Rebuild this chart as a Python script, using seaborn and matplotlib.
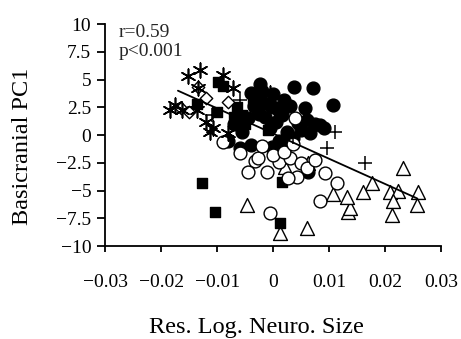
import matplotlib
matplotlib.use("Agg")
import matplotlib.pyplot as plt
import seaborn as sns
import pandas as pd

# values
fc_x = [0.0038, 0.0071, 0.0107, 0.0057, 0.0084, 0.0090, 0.0060, -0.0040, -0.0030, -0.0020,
        -0.0010, 0.0000, 0.0010, 0.0020, -0.0035, -0.0025, -0.0015, 0.0005, 0.0015, 0.0030,
        0.0045, 0.0050, 0.0025, -0.0045, -0.0005, 0.0010, 0.0035, -0.0070, -0.0055, -0.0080,
        -0.0060, 0.0065, 0.0075, -0.0020, 0.0000, -0.0040, -0.0002, 0.0025, 0.0063, -0.0023]
fc_y = [4.3, 4.2, 2.7, 2.4, 0.9, 0.6, 1.4, 3.8, 3.5, 3.0,
        2.8, 2.5, 2.2, 3.2, 2.6, 1.9, 1.6, 1.2, 1.8, 2.6,
        1.1, 0.5, 0.3, 1.5, 0.6, -0.5, -0.3, 1.0, 0.3, -0.5,
        -1.2, 0.2, 1.0, 4.0, 3.7, -0.9, -1.1, -2.0, -3.3, 4.6]

oc_x = [-0.0089, -0.0032, -0.0045, -0.0011, 0.0043, 0.0027, 0.0093, 0.0114, 0.0084, -0.0005,
        -0.0027, 0.0039, 0.0010, 0.0030, 0.0050, 0.0060, 0.0000, -0.0020, 0.0075, 0.0020,
        -0.0060, 0.0035]
oc_y = [-0.6, -2.3, -3.3, -3.3, -3.8, -3.9, -3.4, -4.3, -5.9, -7.0,
        -2.1, 1.5, -2.4, -2.1, -2.5, -3.0, -1.8, -1.0, -2.2, -1.5,
        -1.6, -0.8]

ot_x = [0.0232, 0.0177, 0.0160, 0.0209, 0.0223, 0.0259, 0.0214, 0.0257, 0.0212, 0.0134,
        0.0138, 0.0132, 0.0107, -0.0046, 0.0061, 0.0013, 0.0005, 0.0021, 0.0063]
ot_y = [-3.0, -4.3, -5.1, -5.1, -5.0, -5.1, -5.9, -6.3, -7.2, -6.9,
        -6.6, -5.6, -5.3, -6.3, -8.4, -8.8, -1.5, -2.9, -2.5]

fs_x = [-0.0127, -0.0104, 0.0013, 0.0016, -0.0098, -0.0136, -0.0100, -0.0064, -0.0036, -0.0090,
        -0.0010, -0.0050, 0.0020, -0.0070, -0.0055]
fs_y = [-4.3, -6.9, -7.9, -4.2, 4.8, 2.8, 2.1, 2.5, 2.9, 4.4,
        0.5, 1.0, -0.8, 1.6, 1.8]

st_x = [-0.0152, -0.0130, -0.0134, -0.0163, -0.0136, -0.0113, -0.0089, -0.0071, -0.0005, -0.0107,
        -0.0184, -0.0120, -0.0080, -0.0175]
st_y = [5.3, 5.9, 4.2, 2.3, 2.3, 0.3, 5.4, 4.2, 3.8, 0.6,
        2.3, 1.2, 0.2, 2.7]

pl_x = [0.0110, 0.0096, 0.0164, -0.0110, -0.0060, 0.0035]
pl_y = [0.3, -1.2, -2.5, 1.8, 3.2, -0.2]

od_x = [-0.0165, -0.0134, -0.0120, -0.0150, -0.0080]
od_y = [2.4, 4.3, 3.3, 2.1, 3.0]

line_x = [-0.0170, 0.0257]
line_y = [4.0, -5.7]

x_ticks = [-0.03, -0.02, -0.01, 0, 0.01, 0.02, 0.03]
x_labels = ["\u22120.03", "\u22120.02", "\u22120.01", "0", "0.01", "0.02", "0.03"]
y_ticks = [10, 7.5, 5, 2.5, 0, -2.5, -5, -7.5, -10]
y_labels = ["10", "7.5", "5", "2.5", "0", "\u22122.5", "\u22125", "\u22127.5", "\u221210"]

sns.set_style("ticks")
plt.rcParams['font.family'] = ['Liberation Serif', 'DejaVu Serif']

fig = plt.figure(figsize=(4.61, 3.39), dpi=100)
ax = fig.add_axes([0.228, 0.274, 0.729, 0.655])

groups = [
    (ot_x, ot_y, "^", "white", 100),
    (fs_x, fs_y, "s", "black", 60),
    (fc_x, fc_y, "o", "black", 85),
    (oc_x, oc_y, "o", "white", 85),
    (od_x, od_y, "D", "white", 40),
]
for gx, gy, mk, fcol, size in groups:
    sns.scatterplot(x=gx, y=gy, marker=mk, s=size, color=fcol, edgecolor="black",
                    linewidth=1.0, ax=ax, zorder=3)

sns.scatterplot(x=st_x, y=st_y, marker=(6, 2, 0), s=110, color="black", linewidth=1.2, ax=ax, zorder=4)
sns.scatterplot(x=pl_x, y=pl_y, marker="+", s=110, color="black", linewidth=1.1, ax=ax, zorder=4)

sns.lineplot(x=line_x, y=line_y, color="black", linewidth=1.3, ax=ax, zorder=5)

ax.set_xlim(-0.03, 0.03)
ax.set_ylim(-10, 10)
ax.set_xticks(x_ticks)
ax.set_xticklabels(x_labels)
ax.set_yticks(y_ticks)
ax.set_yticklabels(y_labels)
sns.despine(ax=ax)
for sp in ["left", "bottom"]:
    ax.spines[sp].set_linewidth(1.3)
    ax.spines[sp].set_color("black")
ax.tick_params(axis="x", length=4, width=1.3, pad=16, labelsize=14, colors="black")
ax.tick_params(axis="y", length=6, width=1.3, pad=4, labelsize=14, colors="black")

ax.set_xlabel("Res. Log. Neuro. Size", fontsize=17.5, color="black")
ax.xaxis.set_label_coords(0.45, -0.32)
ax.set_ylabel("Basicranial PC1", fontsize=17.5, color="black")
ax.yaxis.set_label_coords(-0.215, 0.45)

ax.text(0.04, 1.0, "r=0.59\np<0.001", transform=ax.transAxes, fontsize=14,
        va="top", ha="left", linespacing=1.15)

fig.savefig("out.png", dpi=100)
